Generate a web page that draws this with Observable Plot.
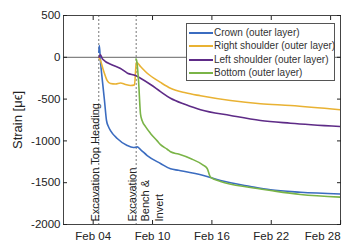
<!DOCTYPE html>
<html><head><meta charset="utf-8">
<script src="https://cdn.jsdelivr.net/npm/d3@7"></script>
<script src="https://cdn.jsdelivr.net/npm/@observablehq/plot@0.6"></script>
<style>
html,body{margin:0;padding:0;background:#fff;}
#wrap{position:relative;width:342px;height:243px;font-family:"Liberation Sans",Arial,sans-serif;}
#legend{position:absolute;left:186px;top:23px;width:149px;height:58px;border:1px solid #555;background:#fff;box-sizing:border-box;}
.row{position:absolute;left:0;height:12px;line-height:12px;font-size:10px;color:#333;white-space:nowrap;}
.sw{position:absolute;left:2px;top:5px;width:24px;height:2px;}
.lb{position:absolute;left:27px;top:0;}
</style>
</head><body>
<div id="wrap"><div id="legend"></div></div>
<script>
const seriesNames = ["Crown (outer layer)", "Right shoulder (outer layer)", "Left shoulder (outer layer)", "Bottom (outer layer)"];
const seriesColors = ["#3b6cc0", "#e9b233", "#5e2b87", "#7ab447"];

const crown = [
  ["2015-02-04T13:40", 60], ["2015-02-04T15:00", 140], ["2015-02-04T17:45", -50],
  ["2015-02-04T22:35", -290], ["2015-02-05T03:25", -517], ["2015-02-05T08:20", -756],
  ["2015-02-05T13:10", -830], ["2015-02-05T18:00", -876], ["2015-02-06T10:20", -971],
  ["2015-02-07T10:30", -1055], ["2015-02-08T01:50", -1079], ["2015-02-08T10:50", -1072],
  ["2015-02-08T18:50", -1103], ["2015-02-09T11:05", -1175], ["2015-02-10T19:20", -1270],
  ["2015-02-11T19:35", -1334], ["2015-02-12T15:00", -1352], ["2015-02-15T03:40", -1414],
  ["2015-02-16T20:50", -1474], ["2015-02-19T21:40", -1545], ["2015-02-21T22:10", -1585],
  ["2015-02-24T23:00", -1614], ["2015-02-28T23:00", -1635]
];
const rightShoulder = [
  ["2015-02-04T14:00", 0], ["2015-02-04T17:45", -38], ["2015-02-05T01:00", -158],
  ["2015-02-05T10:00", -278], ["2015-02-05T18:00", -313], ["2015-02-06T06:10", -319],
  ["2015-02-06T18:20", -307], ["2015-02-07T06:25", -325], ["2015-02-07T18:30", -337],
  ["2015-02-08T04:15", -330], ["2015-02-08T07:50", -100], ["2015-02-08T09:05", -59],
  ["2015-02-08T18:50", -110], ["2015-02-09T11:50", -194], ["2015-02-10T19:20", -300],
  ["2015-02-11T19:35", -370], ["2015-02-13T08:00", -425], ["2015-02-14T20:25", -460],
  ["2015-02-17T21:05", -517], ["2015-02-20T21:55", -556], ["2015-02-23T22:40", -577],
  ["2015-02-28T23:00", -628]
];
const leftShoulder = [
  ["2015-02-04T14:00", 0], ["2015-02-04T17:45", 30], ["2015-02-04T22:35", -20],
  ["2015-02-06T01:20", -98], ["2015-02-06T18:20", -134], ["2015-02-07T11:15", -190],
  ["2015-02-08T06:40", -218], ["2015-02-08T18:50", -250], ["2015-02-09T19:05", -325],
  ["2015-02-10T19:20", -410], ["2015-02-11T19:35", -490], ["2015-02-13T08:00", -565],
  ["2015-02-14T20:25", -628], ["2015-02-17T21:05", -696], ["2015-02-20T21:55", -756],
  ["2015-02-23T22:40", -788], ["2015-02-28T23:00", -828]
];
const bottom = [
  ["2015-02-08T08:00", -20], ["2015-02-08T09:30", -40], ["2015-02-08T14:00", -278],
  ["2015-02-08T18:50", -680], ["2015-02-08T22:55", -760], ["2015-02-09T07:00", -830],
  ["2015-02-09T19:05", -910], ["2015-02-10T11:20", -1000], ["2015-02-10T19:20", -1045],
  ["2015-02-11T11:35", -1100], ["2015-02-11T19:35", -1130], ["2015-02-12T15:00", -1158],
  ["2015-02-13T20:05", -1211], ["2015-02-15T03:40", -1292], ["2015-02-15T12:35", -1330],
  ["2015-02-15T20:35", -1434], ["2015-02-16T20:50", -1485], ["2015-02-19T21:40", -1557],
  ["2015-02-21T22:10", -1593], ["2015-02-24T23:00", -1641], ["2015-02-28T23:00", -1673]
];
const seriesData = [crown, rightShoulder, leftShoulder, bottom];

const events = [
  {date: "2015-02-04T13:35", label: "Excavation Top Heading"},
  {date: "2015-02-08T08:20", label: "Excavation\nBench &\nInvert"}
];
const xDomain = ["2015-02-01T00:00", "2015-03-01T00:00"];
const xTicks = ["2015-02-04", "2015-02-10", "2015-02-16", "2015-02-22", "2015-02-28"];
const yTicks = [500, 0, -500, -1000, -1500, -2000];
const yLabel = "Strain [μϵ]";

const P = s => new Date(s.length <= 10 ? s + "T00:00Z" : s + "Z");
const fmt = d3.utcFormat("%b %d");
const xt = xTicks.map(P);

const lineMarks = seriesData.map((s, i) => Plot.line(s, {
  x: d => P(d[0]), y: d => d[1], stroke: seriesColors[i], strokeWidth: 1.6, curve: "monotone-x"
}));

const chart = Plot.plot({
  width: 342, height: 243,
  marginLeft: 63, marginRight: 2, marginTop: 15, marginBottom: 19,
  style: {fontFamily: "'Liberation Sans', Arial, sans-serif", fontSize: "11.5px", color: "#222", background: "white"},
  x: {type: "utc", domain: xDomain.map(P)},
  y: {domain: [-2000, 500]},
  marks: [
    Plot.ruleY([0], {stroke: "#666", strokeWidth: 1}),
    Plot.ruleX(events, {x: d => P(d.date), stroke: "#777", strokeDasharray: "2,2"}),
    ...lineMarks,
    Plot.frame({stroke: "#444"}),
    Plot.axisY({ticks: yTicks, tickSize: -4, tickPadding: 7, tickFormat: d => String(d), label: null}),
    Plot.axisY({anchor: "right", ticks: yTicks, tickSize: -4, tickFormat: () => "", label: null}),
    Plot.axisX({ticks: xt.slice(0, -1), tickSize: -4, tickPadding: 11, tickFormat: fmt, label: null}),
    Plot.axisX({ticks: xt.slice(-1), tickSize: -4, tickPadding: 11, tickFormat: fmt, label: null, textAnchor: "end", dx: 10}),
    Plot.axisX({anchor: "top", ticks: xt, tickSize: -4, tickFormat: () => "", label: null}),
    Plot.text([yLabel], {frameAnchor: "left", dx: -46, rotate: -90, text: d => d, lineAnchor: "middle", textAnchor: "middle", fontSize: 13}),
    Plot.text([events[0]], {x: d => P(d.date), frameAnchor: "bottom", rotate: -90, text: "label", textAnchor: "start", lineAnchor: "bottom", dy: -3, dx: 0, fontSize: 11}),
    Plot.text([events[1]], {x: d => P(d.date), frameAnchor: "bottom", rotate: -90, text: "label", textAnchor: "start", lineAnchor: "middle", dy: -3, dx: 9, fontSize: 11, lineHeight: 1.2})
  ]
});
const wrap = document.getElementById("wrap");
wrap.insertBefore(chart, wrap.firstChild);

const legend = document.getElementById("legend");
const rowCenters = [8.6, 22.1, 35.6, 49.1];
seriesNames.forEach((name, i) => {
  const r = document.createElement("div");
  r.className = "row";
  r.style.top = (rowCenters[i] - 6) + "px";
  r.innerHTML = `<div class="sw" style="background:${seriesColors[i]}"></div><div class="lb"></div>`;
  r.querySelector(".lb").textContent = name;
  legend.appendChild(r);
});
</script>
</body></html>
